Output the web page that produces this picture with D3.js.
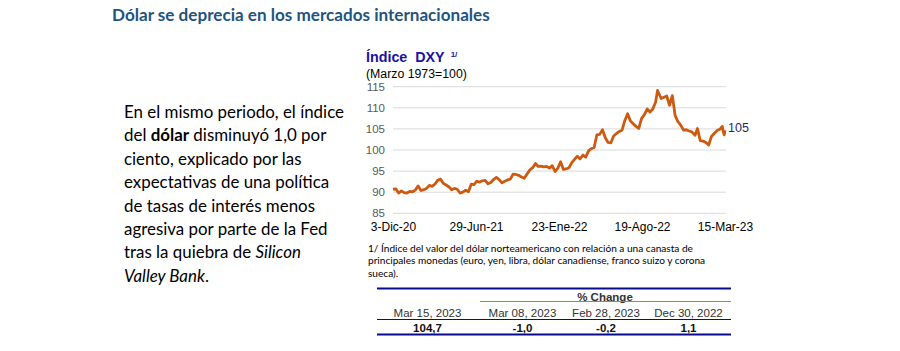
<!DOCTYPE html>
<html><head><meta charset="utf-8">
<script src="https://cdn.jsdelivr.net/npm/d3@7"></script>
<style>
body{margin:0;background:#fff;}
svg{display:block;}
</style></head>
<body>
<svg id="c" width="900" height="351"></svg>
<script>
// ---- DATA ----
const dates = [
"2020-12-03","2020-12-10","2020-12-17","2020-12-24","2020-12-31",
"2021-01-07","2021-01-14","2021-01-21","2021-01-28","2021-02-04","2021-02-11","2021-02-18","2021-02-25",
"2021-03-04","2021-03-11","2021-03-18","2021-03-25","2021-04-01","2021-04-08","2021-04-15","2021-04-22","2021-04-29",
"2021-05-06","2021-05-13","2021-05-20","2021-05-27","2021-06-03","2021-06-10","2021-06-17","2021-06-24",
"2021-07-01","2021-07-08","2021-07-15","2021-07-22","2021-07-29","2021-08-05","2021-08-12","2021-08-19","2021-08-26",
"2021-09-02","2021-09-09","2021-09-16","2021-09-23","2021-09-30","2021-10-07","2021-10-14","2021-10-21","2021-10-28",
"2021-11-04","2021-11-11","2021-11-18","2021-11-25","2021-12-02","2021-12-09","2021-12-16","2021-12-23","2021-12-30",
"2022-01-06","2022-01-13","2022-01-20","2022-01-27","2022-02-03","2022-02-10","2022-02-17","2022-02-24",
"2022-03-03","2022-03-10","2022-03-17","2022-03-24","2022-03-31","2022-04-07","2022-04-14","2022-04-21","2022-04-28",
"2022-05-05","2022-05-12","2022-05-19","2022-05-26","2022-06-02","2022-06-09","2022-06-16","2022-06-23","2022-06-30",
"2022-07-07","2022-07-14","2022-07-21","2022-07-28","2022-08-04","2022-08-11","2022-08-18","2022-08-25",
"2022-09-01","2022-09-08","2022-09-15","2022-09-22","2022-09-27","2022-10-06","2022-10-13","2022-10-20","2022-10-27",
"2022-11-03","2022-11-10","2022-11-17","2022-11-24","2022-12-01","2022-12-08","2022-12-15","2022-12-22","2022-12-30",
"2023-01-05","2023-01-12","2023-01-19","2023-01-26","2023-02-02","2023-02-09","2023-02-16","2023-02-23",
"2023-03-02","2023-03-08","2023-03-10","2023-03-13","2023-03-15"
];
const dxy = [
90.7,90.8,89.8,90.3,89.9,
89.8,90.2,90.1,90.5,91.5,90.4,90.6,90.9,
91.6,91.4,91.9,92.8,93.1,92.1,91.7,91.3,90.6,
90.9,90.7,89.8,90.0,90.5,90.1,91.9,91.8,
92.6,92.4,92.7,92.8,92.0,92.3,93.0,93.5,93.0,
92.2,92.6,92.9,93.1,94.3,94.2,94.0,93.6,93.3,
94.3,95.3,95.8,96.8,96.1,96.2,96.0,96.1,95.7,
96.3,94.9,95.7,97.2,95.4,95.5,95.8,97.0,
97.8,98.5,97.9,98.8,98.3,99.8,100.3,100.6,103.6,
103.7,104.8,102.9,101.8,101.7,103.3,103.9,104.4,104.7,
107.0,108.6,106.9,106.2,105.6,105.1,107.5,108.4,
109.7,109.0,109.7,111.3,114.1,112.2,112.5,112.8,110.6,
112.9,108.2,106.7,105.9,104.7,104.8,104.5,104.3,103.5,
105.1,102.2,102.1,101.8,101.2,103.2,103.9,104.6,
104.9,105.6,104.6,103.6,104.7
];
const xTickDates = ["2020-12-03","2021-06-29","2022-01-23","2022-08-19","2023-03-15"];
const xTickLabels = ["3-Dic-20","29-Jun-21","23-Ene-22","19-Ago-22","15-Mar-23"];
const yTicks = [85,90,95,100,105,110,115];
const endLabel = "105";

const paragraph = [
  [["En el mismo periodo, el índice","n"]],
  [["del ","n"],["dólar","b"],[" disminuyó 1,0 por","n"]],
  [["ciento, explicado por las","n"]],
  [["expectativas de una política","n"]],
  [["de tasas de interés menos","n"]],
  [["agresiva por parte de la Fed","n"]],
  [["tras la quiebra de ","n"],["Silicon","i"]],
  [["Valley Bank","i"],[".","n"]]
];
const footnote = [
  "1/ Índice del valor del dólar norteamericano con relación a una canasta de",
  "principales monedas (euro, yen,  libra, dólar canadiense, franco suizo y corona",
  "sueca)."
];
const tableHeaders = ["Mar 15, 2023","Mar 08, 2023","Feb 28, 2023","Dec 30, 2022"];
const tableValues = ["104,7","-1,0","-0,2","1,1"];

// ---- DRAW ----
const svg = d3.select("#c");
const parse = d3.timeParse("%Y-%m-%d");
const data = dates.map((d,i)=>({date:parse(d), v:dxy[i]}));

// Title
svg.append("text").attr("x",112).attr("y",21)
  .attr("font-family","Lato, 'Open Sans', sans-serif").attr("font-weight","bold")
  .attr("font-size",17.1).attr("fill","#1F5480")
  .text("Dólar se deprecia en los mercados internacionales");

// Paragraph
const para = svg.append("text").attr("font-family","Lato, 'Open Sans', sans-serif")
  .attr("font-size",16.9).attr("fill","#000");
paragraph.forEach((line,i)=>{
  line.forEach(([s,st],j)=>{
    const sp = para.append("tspan").text(s);
    if(j===0) sp.attr("x",124).attr("y",118+i*23.4);
    if(st==="b") sp.attr("font-weight","bold");
    if(st==="i") sp.attr("font-style","italic");
  });
});

// Chart
const x = d3.scaleTime().domain([parse(dates[0]), parse(dates[dates.length-1])]).range([393,725]);
const y = d3.scaleLinear().domain([85,115]).range([213.3,86.7]);

const grid = svg.append("g");
grid.selectAll("line").data(yTicks).join("line")
  .attr("x1",393).attr("x2",726).attr("y1",d=>y(d)).attr("y2",d=>y(d))
  .attr("stroke","#D9D9D9").attr("stroke-width",1);

const yAxis = d3.axisLeft(y).tickValues(yTicks).tickSize(0).tickPadding(0);
const gy = svg.append("g").attr("transform","translate(385,0)").call(yAxis);
gy.select(".domain").remove();
gy.selectAll("text").attr("font-family","'Liberation Sans', Arial, sans-serif")
  .attr("font-size",11.5).attr("fill","#595959");

const xAxis = d3.axisBottom(x).tickValues(xTickDates.map(parse))
  .tickFormat((d,i)=>xTickLabels[i]).tickSize(0).tickPadding(0);
const gx = svg.append("g").attr("transform","translate(0,222)").call(xAxis);
gx.select(".domain").remove();
gx.selectAll("text").attr("font-family","'Liberation Sans', Arial, sans-serif")
  .attr("font-size",12).attr("fill","#000");

svg.append("path").datum(data)
  .attr("d", d3.line().x(d=>x(d.date)).y(d=>y(d.v)))
  .attr("fill","none").attr("stroke","#CC5A10").attr("stroke-width",2.8)
  .attr("stroke-linejoin","round");

const last = data[data.length-1];
svg.append("text").attr("x",x(last.date)+3).attr("y",y(last.v)-1)
  .attr("dominant-baseline","middle")
  .attr("font-family","'Liberation Sans', Arial, sans-serif").attr("font-size",12.5)
  .attr("fill","#1F2A6E").text(endLabel);

// Chart titles
const ct = svg.append("text").attr("x",366).attr("y",62)
  .attr("font-family","'Liberation Sans', Arial, sans-serif").attr("font-weight","bold")
  .attr("font-size",14.3).attr("fill","#2010A0");
ct.append("tspan").attr("xml:space","preserve").style("white-space","pre").text("Índice  DXY");
ct.append("tspan").attr("dx",6).attr("dy",-5).attr("font-size",8).text("1/");
svg.append("text").attr("x",366).attr("y",77.5)
  .attr("font-family","'Liberation Sans', Arial, sans-serif").attr("font-size",12.3)
  .attr("fill","#000").text("(Marzo 1973=100)");

// Footnote
svg.append("g").selectAll("text").data(footnote).join("text")
  .attr("x",368).attr("y",(d,i)=>251.5+i*12.8)
  .attr("font-family","Lato, sans-serif").attr("font-size",10.1).attr("fill","#000")
  .text(d=>d);

// Table
const colX = [427.5,522.5,606,688.5];
const tf = "'Liberation Sans', Arial, sans-serif";
svg.append("line").attr("x1",377).attr("x2",731).attr("y1",288.5).attr("y2",288.5)
  .attr("stroke","#0A0A8C").attr("stroke-width",2);
svg.append("text").attr("x",605).attr("y",300.5).attr("text-anchor","middle")
  .attr("font-family",tf).attr("font-size",11.5).attr("font-weight","bold").attr("fill","#333")
  .text("% Change");
svg.append("line").attr("x1",480).attr("x2",731).attr("y1",301.5).attr("y2",301.5)
  .attr("stroke","#8080D0").attr("stroke-width",1);
svg.append("g").selectAll("text").data(tableHeaders).join("text")
  .attr("x",(d,i)=>colX[i]).attr("y",316.5).attr("text-anchor","middle")
  .attr("font-family",tf).attr("font-size",11.5).attr("fill","#333").text(d=>d);
svg.append("line").attr("x1",377).attr("x2",731).attr("y1",319.5).attr("y2",319.5)
  .attr("stroke","#0A0A8C").attr("stroke-width",1);
svg.append("g").selectAll("text").data(tableValues).join("text")
  .attr("x",(d,i)=>colX[i]).attr("y",331.5).attr("text-anchor","middle")
  .attr("font-family",tf).attr("font-size",11.5).attr("font-weight","bold").attr("fill","#111").text(d=>d);
svg.append("line").attr("x1",377).attr("x2",731).attr("y1",334.5).attr("y2",334.5)
  .attr("stroke","#0A0A8C").attr("stroke-width",2);
</script>
</body></html>
